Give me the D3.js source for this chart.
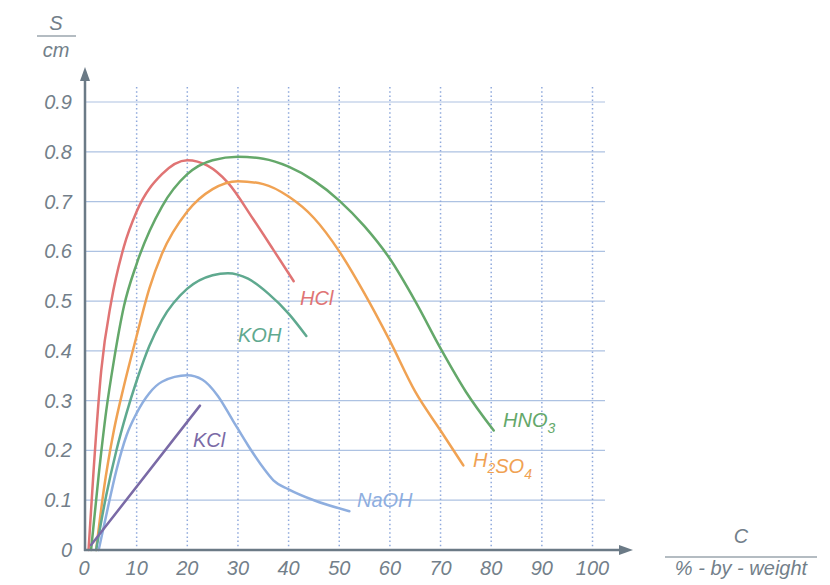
<!DOCTYPE html>
<html>
<head>
<meta charset="utf-8">
<title>Conductivity vs concentration</title>
<script src="https://d3js.org/d3.v7.min.js"></script>
<style>
  body { margin: 0; background: #fff; }
  svg { display: block; font-family: "Liberation Sans", Arial, sans-serif; }
  .tick-label { fill: #737f8a; font-size: 20px; font-style: italic; }
  .title { fill: #737f8a; font-size: 20px; font-style: italic; }
  .curve-label { font-size: 20px; font-style: italic; }
</style>
</head>
<body>
<div id="chart"></div>
<script>
// ticks
var xTicks = [0, 10, 20, 30, 40, 50, 60, 70, 80, 90, 100];
var yTicks = [0, 0.1, 0.2, 0.3, 0.4, 0.5, 0.6, 0.7, 0.8, 0.9];

// curves: [concentration %, conductivity S/cm]
var hcl = [[0.5,0],[1.5,0.16],[3,0.36],[5,0.5],[7.5,0.61],[10,0.68],[15,0.755],[20,0.783],[24,0.772],[28,0.738],[33,0.665],[37,0.603],[41,0.54]];
var hno3 = [[1,0],[2.5,0.15],[4,0.28],[5.5,0.38],[7.5,0.49],[10,0.575],[15,0.69],[20,0.755],[25,0.783],[30,0.79],[35,0.786],[40,0.77],[45,0.742],[50,0.702],[55,0.65],[60,0.585],[65,0.5],[70,0.405],[75,0.318],[80.5,0.24]];
var h2so4 = [[2,0],[3.5,0.12],[5.5,0.24],[7.5,0.33],[10,0.43],[12.5,0.525],[15,0.595],[20,0.68],[25,0.725],[30,0.741],[35,0.735],[40,0.71],[45,0.667],[50,0.6],[55,0.515],[60,0.42],[65,0.318],[70,0.24],[74.5,0.17]];
var koh = [[2,0],[4,0.11],[6,0.2],[8,0.275],[10,0.34],[12.5,0.41],[15,0.462],[20,0.525],[25,0.552],[28,0.556],[32,0.545],[36,0.515],[40,0.475],[43.5,0.43]];
var naoh = [[2.5,0],[4,0.07],[6,0.16],[8,0.23],[10,0.275],[12.5,0.315],[15,0.338],[20,0.351],[23,0.342],[26,0.31],[29,0.26],[32,0.21],[35,0.165],[37,0.14],[40,0.122],[45,0.1],[52,0.078]];
var kcl = [[1,0.01],[22.5,0.29]];

var series = [
  {name: "HCl", data: hcl, color: "#e07474", label: [300, 305]},
  {name: "HNO3", data: hno3, color: "#64a86a", label: [503, 427]},
  {name: "H2SO4", data: h2so4, color: "#f0a253", label: [473, 467]},
  {name: "KOH", data: koh, color: "#5fa98f", label: [238, 342]},
  {name: "NaOH", data: naoh, color: "#8eaedf", label: [357, 507]},
  {name: "KCl", data: kcl, color: "#7a6aa6", label: [193, 447]}
];

var width = 830, height = 585;
var svg = d3.select("#chart").append("svg")
  .attr("width", width)
  .attr("height", height);

var x = d3.scaleLinear().domain([0, 100]).range([86, 592.5]);
var y = d3.scaleLinear().domain([0, 0.9]).range([550, 102]);

var axisColor = "#6b7a86";
var gridColor = "#adc2e2";

// horizontal grid
svg.append("g").selectAll("line")
  .data(yTicks.slice(1))
  .enter().append("line")
  .attr("x1", x(0)).attr("x2", 605)
  .attr("y1", d => y(d)).attr("y2", d => y(d))
  .attr("stroke", gridColor).attr("stroke-width", 1.2);

// vertical dotted grid
svg.append("g").selectAll("line")
  .data(xTicks.slice(1))
  .enter().append("line")
  .attr("x1", d => x(d)).attr("x2", d => x(d))
  .attr("y1", 87).attr("y2", y(0))
  .attr("stroke", "#8fa9dc").attr("stroke-width", 1.5)
  .attr("stroke-dasharray", "1.5,2.7");

// curves
var line = d3.line()
  .x(d => x(d[0]))
  .y(d => y(d[1]))
  .curve(d3.curveMonotoneX);

svg.append("g").selectAll("path")
  .data(series)
  .enter().append("path")
  .attr("d", d => line(d.data))
  .attr("fill", "none")
  .attr("stroke", d => d.color)
  .attr("stroke-width", 2.5)
  .attr("stroke-linecap", "round");

// curve labels with subscripts
series.forEach(function (s) {
  var t = svg.append("text")
    .attr("class", "curve-label")
    .attr("x", s.label[0]).attr("y", s.label[1])
    .attr("fill", s.color);
  var parts = s.name.match(/[A-Za-z]+|\d+/g);
  parts.forEach(function (p) {
    if (/\d/.test(p)) {
      t.append("tspan").attr("dy", 6).attr("font-size", 14).text(p);
      t.append("tspan").attr("dy", -6).text("");
    } else {
      t.append("tspan").text(p);
    }
  });
});

// axes
var axes = svg.append("g");
axes.append("line")
  .attr("x1", x(0) - 1).attr("x2", x(0) - 1)
  .attr("y1", y(0) + 1).attr("y2", 78)
  .attr("stroke", axisColor).attr("stroke-width", 2.5);
axes.append("path")
  .attr("d", "M" + (x(0) - 6) + ",81 L" + (x(0) - 1) + ",67 L" + (x(0) + 4) + ",81 Z")
  .attr("fill", axisColor);
axes.append("line")
  .attr("x1", x(0) - 2).attr("x2", 622)
  .attr("y1", y(0)).attr("y2", y(0))
  .attr("stroke", axisColor).attr("stroke-width", 2.5);
axes.append("path")
  .attr("d", "M619," + (y(0) - 5) + " L633," + y(0) + " L619," + (y(0) + 5) + " Z")
  .attr("fill", axisColor);

// tick labels
svg.append("g").selectAll("text")
  .data(yTicks)
  .enter().append("text")
  .attr("class", "tick-label")
  .attr("x", 72)
  .attr("y", d => y(d) + 7)
  .attr("text-anchor", "end")
  .text(d => d === 0 ? "0" : d3.format(".1f")(d));

svg.append("g").selectAll("text")
  .data(xTicks)
  .enter().append("text")
  .attr("class", "tick-label")
  .attr("x", d => x(d) - (d === 0 ? 2 : 0))
  .attr("y", 575)
  .attr("text-anchor", "middle")
  .text(d => d);

// axis titles as fractions
svg.append("text").attr("class", "title").attr("x", 56).attr("y", 30)
  .attr("text-anchor", "middle").text("S");
svg.append("line").attr("x1", 37).attr("x2", 76).attr("y1", 36).attr("y2", 36)
  .attr("stroke", axisColor).attr("stroke-width", 1.2);
svg.append("text").attr("class", "title").attr("x", 56).attr("y", 57)
  .attr("text-anchor", "middle").text("cm");

svg.append("text").attr("class", "title").attr("x", 741).attr("y", 543)
  .attr("text-anchor", "middle").text("C");
svg.append("line").attr("x1", 665).attr("x2", 817).attr("y1", 557).attr("y2", 557)
  .attr("stroke", axisColor).attr("stroke-width", 1.2);
svg.append("text").attr("class", "title").attr("x", 741).attr("y", 575)
  .attr("text-anchor", "middle").text("% - by - weight");
</script>
</body>
</html>
